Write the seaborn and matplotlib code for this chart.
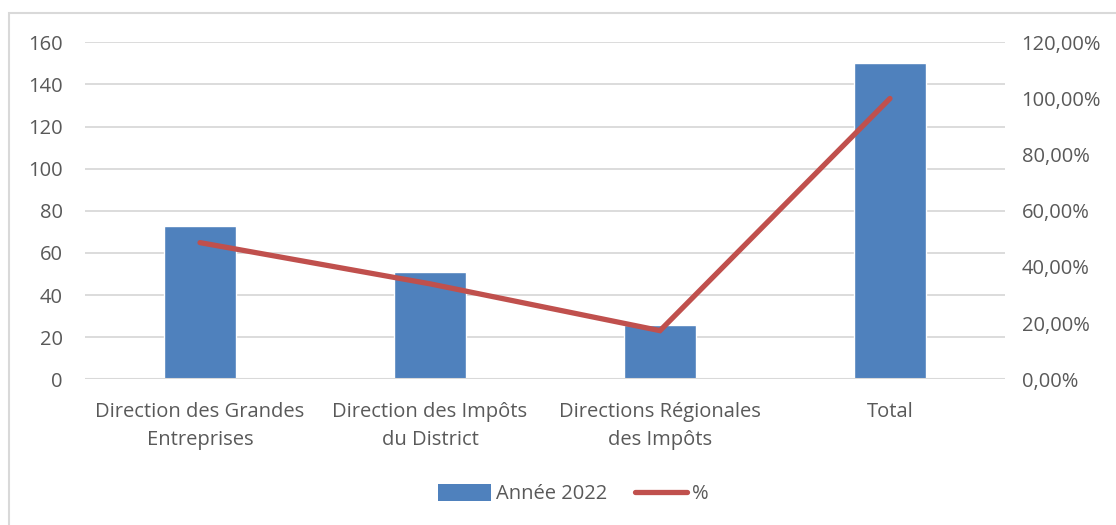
import matplotlib
matplotlib.use("Agg")
import matplotlib.pyplot as plt
from matplotlib.patches import Rectangle, Patch
from matplotlib.lines import Line2D
from matplotlib.ticker import FuncFormatter, MultipleLocator
import numpy as np
import pandas as pd
import seaborn as sns

# Data
categories = [
    "Direction des Grandes\nEntreprises",
    "Direction des Impôts\ndu District",
    "Directions Régionales\ndes Impôts",
    "Total",
]
effectifs = [73, 51, 26, 150]
pourcentages = [48.67, 34.00, 17.33, 100.00]
series_bar = "Année 2022"
series_line = "%"

sns.set_theme(style="white")
plt.rcParams["font.family"] = ["Open Sans", "DejaVu Sans"]

TEXT = "#595959"
GRID = "#d9d9d9"
BLUE = "#4f81bd"
RED = "#c0504d"
FS = 14.5

fig = plt.figure(figsize=(11.16, 5.25), dpi=100)
ax = fig.add_axes([0.0762, 0.2775, 0.8243, 0.6419])

df = pd.DataFrame({"cat": categories, "val": effectifs})
sns.barplot(data=df, x="cat", y="val", color=BLUE, saturation=1, width=0.31, ax=ax)

ax.set_ylim(0, 160)
ax.yaxis.set_major_locator(MultipleLocator(20))
ax.set_xlim(-0.5, len(categories) - 0.5)
ax.set_xlabel("")
ax.set_ylabel("")
ax.grid(axis="y", color=GRID, linewidth=1.3)
ax.set_axisbelow(True)
for s in ax.spines.values():
    s.set_visible(False)
ax.tick_params(axis="both", length=0, labelsize=FS, labelcolor=TEXT)
ax.tick_params(axis="y", pad=16)
ax.tick_params(axis="x", pad=16)
for lbl in ax.get_xticklabels():
    lbl.set_linespacing(1.55)

ax2 = ax.twinx()
line_df = pd.DataFrame({"x": np.arange(len(categories)), "p": pourcentages})
sns.lineplot(data=line_df, x="x", y="p", color=RED, linewidth=3.8, ax=ax2,
             solid_capstyle="round", solid_joinstyle="miter")
ax2.set_ylim(0, 120)
ax2.yaxis.set_major_locator(MultipleLocator(20))
ax2.yaxis.set_major_formatter(FuncFormatter(lambda v, _: f"{v:.2f}%".replace(".", ",")))
ax2.set_xlim(-0.5, len(categories) - 0.5)
ax2.set_ylabel("")
ax2.set_xlabel("")
for s in ax2.spines.values():
    s.set_visible(False)
ax2.tick_params(axis="y", length=0, labelsize=FS, labelcolor=TEXT, pad=12)
ax2.grid(False)

# baseline
ax.axhline(0, color=GRID, linewidth=1.5, zorder=1)

handles = [
    Patch(facecolor=BLUE, edgecolor="none"),
    Line2D([0], [0], color=RED, linewidth=3.8, solid_capstyle="round"),
]
fig.legend(handles, [series_bar, series_line], loc="center", bbox_to_anchor=(0.514, 0.059),
           ncol=2, frameon=False, fontsize=FS, labelcolor=TEXT,
           handlelength=2.6, handleheight=0.9, handletextpad=0.25, columnspacing=1.4)

# chart frame
fig.patches.append(Rectangle((9 / 1116, -0.1), 1.2, 1 - 13 / 525 + 0.1,
                             transform=fig.transFigure, fill=False,
                             edgecolor="#d9d9d9", linewidth=1.5))

fig.savefig("out.png", dpi=100, facecolor="white")
